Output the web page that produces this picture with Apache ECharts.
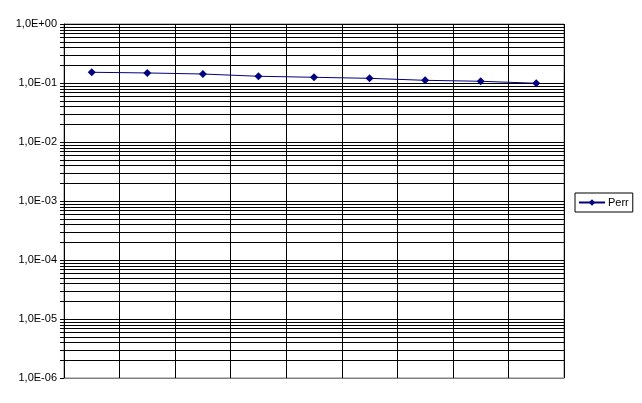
<!DOCTYPE html>
<html><head><meta charset="utf-8">
<script src="https://cdn.jsdelivr.net/npm/echarts@6/dist/echarts.min.js"></script>
<style>html,body{margin:0;padding:0;background:#fff}#c{width:642px;height:403px}</style>
</head><body><div id="c"></div>
<script>
var categories = ['1','2','3','4','5','6','7','8','9'];
var perr = [0.152, 0.148, 0.142, 0.130, 0.125, 0.120, 0.111, 0.107, 0.099];
var yTickLabels = ['1,0E-06','1,0E-05','1,0E-04','1,0E-03','1,0E-02','1,0E-01','1,0E+00'];
var minExp = -6;
var minorValues = [];
for (var e = -6; e < 0; e++) { for (var m = 2; m <= 9; m++) { minorValues.push(m * Math.pow(10, e)); } }

var chart = echarts.init(document.getElementById('c'));
chart.setOption({
  animation: false,
  textStyle: { fontFamily: 'Liberation Sans, Arial, sans-serif' },
  grid: { left: 64, right: 78, top: 24, bottom: 25, show: true, borderColor: '#808080', borderWidth: 1, backgroundColor: 'transparent' },
  legend: {
    data: ['Perr'], left: 575, top: 193, orient: 'vertical',
    borderColor: '#000', borderWidth: 1, borderRadius: 0, padding: [4, 4, 4, 3],
    itemWidth: 26, itemHeight: 8,
    textStyle: { fontSize: 11, color: '#000', fontFamily: 'Liberation Sans, Arial, sans-serif', padding: [0, 0, 0, -2] }
  },
  xAxis: {
    type: 'category', data: categories, boundaryGap: true,
    axisLine: { show: true, lineStyle: { color: '#808080' } },
    axisTick: { show: false }, axisLabel: { show: false },
    splitLine: { show: true, interval: 0, lineStyle: { color: '#000', width: 1 } }
  },
  yAxis: {
    type: 'log', logBase: 10, min: 1e-6, max: 1, splitNumber: 6,
    axisLine: { show: true, lineStyle: { color: '#000' } },
    axisTick: { show: true, length: 4, lineStyle: { color: '#000' } },
    axisLabel: {
      fontSize: 11, color: '#000', margin: 7,
      formatter: function (v) { var i = Math.round(Math.log10(v)) - minExp; return yTickLabels[i] || ''; }
    },
    splitLine: { show: true, lineStyle: { color: '#000', width: 1 } }
  },
  series: [{
    name: 'minor', type: 'custom', silent: true, z: 1,
    data: minorValues.map(function (v) { return [0, v]; }),
    encode: { x: 0, y: 1 },
    renderItem: function (params, api) {
      var p = api.coord([0, api.value(1)]);
      var cs = params.coordSys;
      var y = Math.round(p[1]) + 0.5;
      return {
        type: 'line',
        shape: { x1: cs.x - 4, y1: y, x2: cs.x + cs.width, y2: y },
        style: { stroke: '#000', lineWidth: 1 }
      };
    }
  }, {
    name: 'Perr', type: 'line', data: perr,
    symbol: 'diamond', symbolSize: 8,
    itemStyle: { color: '#000080' },
    lineStyle: { color: '#000080', width: 1 },
    z: 5
  }]
});
</script></body></html>
